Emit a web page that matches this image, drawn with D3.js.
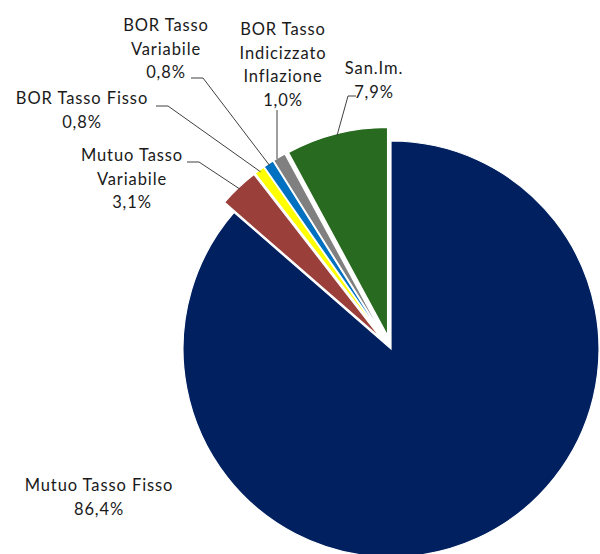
<!DOCTYPE html>
<html>
<head>
<meta charset="utf-8">
<script src="https://cdn.jsdelivr.net/npm/d3@7"></script>
<style>
  html, body { margin: 0; padding: 0; background: #fff; }
  svg { display: block; }
  text { font-family: Lato, "Open Sans", sans-serif; fill: #1a1a1a; }
</style>
</head>
<body>
<div id="chart"></div>
<script>
// Composizione del portafoglio per tipologia di strumento
const categories = [
  "Mutuo Tasso Fisso",
  "Mutuo Tasso Variabile",
  "BOR Tasso Fisso",
  "BOR Tasso Variabile",
  "BOR Tasso Indicizzato Inflazione",
  "San.Im."
];
const shares = [86.4, 3.1, 0.8, 0.8, 1.0, 7.9];
const labelLines = [
  ["Mutuo Tasso Fisso"],
  ["Mutuo Tasso", "Variabile"],
  ["BOR Tasso Fisso"],
  ["BOR Tasso", "Variabile"],
  ["BOR Tasso", "Indicizzato", "Inflazione"],
  ["San.Im."]
];
const colors = ["#002060", "#9b3f3b", "#ffff00", "#0070c0", "#808080", "#286a1f"];
const exploded = [false, true, true, true, true, true];

const width = 600, height = 554;
const cx = 391, cy = 349, radius = 208, explode = 14;

// label anchors (centre x, first-line y) and leader elbow points
const labelPos = [
  { x: 99,  y: 491, lead: null },
  { x: 132, y: 161, lead: [[187, 162], [199, 162]] },
  { x: 82,  y: 104, lead: [[156, 106], [168, 106]] },
  { x: 166, y: 31,  lead: [[191, 78], [203, 78]] },
  { x: 283, y: 35,  lead: [[277, 110]] },
  { x: 374, y: 74,  lead: [[356, 96], [348, 96]] }
];

const fmt = v => d3.format(".1f")(v).replace(".", ",") + "%";

const svg = d3.select("#chart").append("svg")
  .attr("width", width).attr("height", height);

const pie = d3.pie().sort(null).value(d => d)(shares);
const arc = d3.arc().innerRadius(0).outerRadius(radius);

const g = svg.append("g").attr("transform", `translate(${cx},${cy})`);

function offset(d, i) {
  if (!exploded[i]) return [0, 0];
  const a = (d.startAngle + d.endAngle) / 2;
  return [Math.sin(a) * explode, -Math.cos(a) * explode];
}

g.selectAll("path.slice")
  .data(pie)
  .join("path")
  .attr("class", "slice")
  .attr("d", arc)
  .attr("fill", (d, i) => colors[i])
  .attr("stroke", "#fff")
  .attr("stroke-width", 1.2)
  .attr("transform", (d, i) => {
    const [ox, oy] = offset(d, i);
    return `translate(${ox},${oy})`;
  });

// leader lines from label to outer edge of the slice
pie.forEach((d, i) => {
  const p = labelPos[i];
  if (!p.lead) return;
  const a = (d.startAngle + d.endAngle) / 2;
  const [ox, oy] = offset(d, i);
  const ex = cx + ox + Math.sin(a) * (radius - 2);
  const ey = cy + oy - Math.cos(a) * (radius - 2);
  let pts = p.lead.slice();
  if (pts.length === 1) pts = [pts[0], [pts[0][0], ey]];
  else pts.push([ex, ey]);
  svg.append("path")
    .attr("d", d3.line()(pts))
    .attr("fill", "none")
    .attr("stroke", "#404040")
    .attr("stroke-width", 1);
});

// labels
pie.forEach((d, i) => {
  const p = labelPos[i];
  const lines = labelLines[i].concat([fmt(shares[i])]);
  const t = svg.append("text")
    .attr("text-anchor", "middle")
    .attr("font-size", 16.5)
    .attr("letter-spacing", 0.9);
  lines.forEach((ln, k) => {
    t.append("tspan")
      .attr("x", p.x)
      .attr("y", p.y + k * 23.5)
      .text(ln);
  });
});
</script>
</body>
</html>
